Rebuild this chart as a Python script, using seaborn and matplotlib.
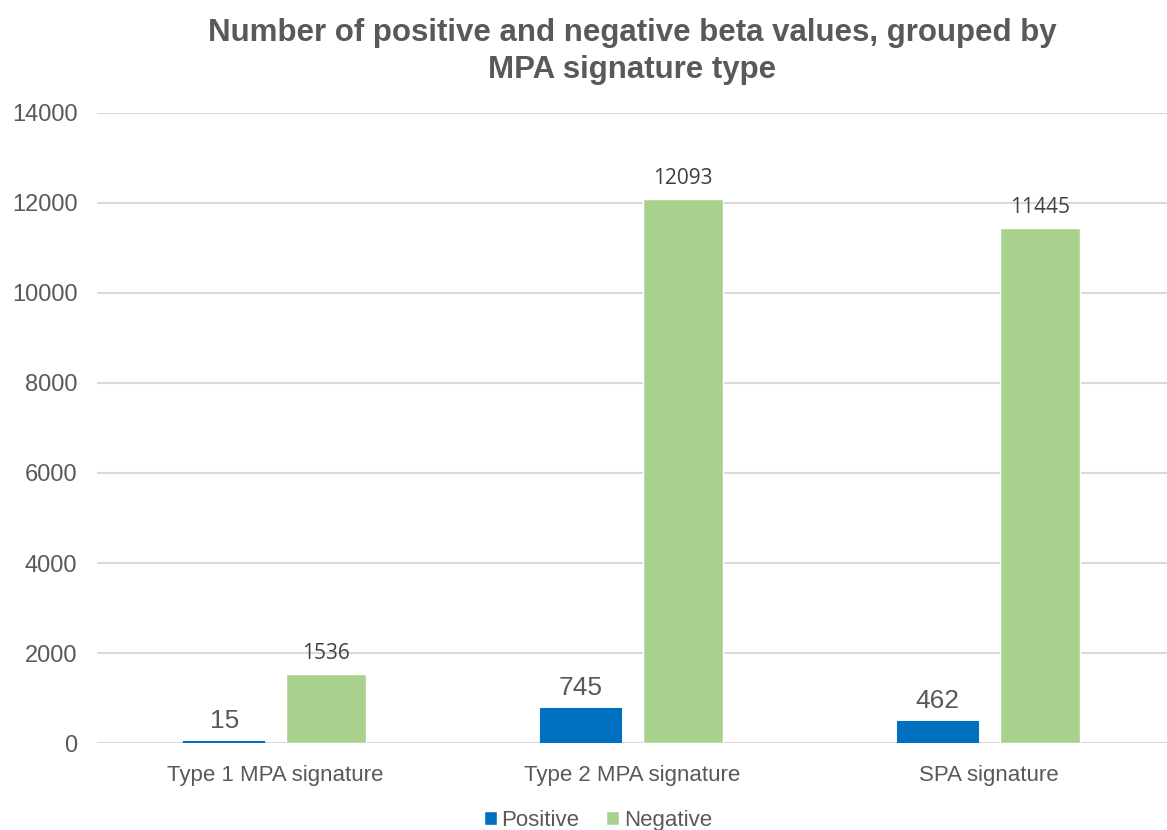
import matplotlib
matplotlib.use("Agg")
import matplotlib.pyplot as plt
import seaborn as sns
import pandas as pd

categories = ["Type 1 MPA signature", "Type 2 MPA signature", "SPA signature"]
positive = [15, 745, 462]
negative = [1536, 12093, 11445]
series_names = ["Positive", "Negative"]
y_ticks = [0, 2000, 4000, 6000, 8000, 10000, 12000, 14000]

df = pd.DataFrame({
    "category": categories * 2,
    "series": [series_names[0]] * 3 + [series_names[1]] * 3,
    "value": positive + negative,
})

sns.set_theme(style="white")
plt.rcParams["font.family"] = ["Liberation Sans", "DejaVu Sans"]

text_color = "#595959"
grid_color = "#d9d9d9"
palette = {"Positive": "#0070C0", "Negative": "#A9D18E"}

fig = plt.figure(figsize=(11.67, 8.3), dpi=100)
ax = fig.add_axes([0.083, 0.1048, 0.917, 0.7591])

sns.barplot(data=df, x="category", y="value", hue="series", palette=palette,
            width=0.572, gap=0.217, ax=ax, saturation=1, legend=True,
            order=categories, hue_order=series_names)

ax.set_ylim(0, 14000)
ax.set_xlim(-0.5, 2.5)
ax.set_yticks(y_ticks)
ax.set_yticklabels([str(t) for t in y_ticks])
ax.yaxis.grid(True, color=grid_color, linewidth=1.5)
ax.set_axisbelow(True)
for s in ax.spines.values():
    s.set_visible(False)
ax.axhline(0, color=grid_color, linewidth=1.5, zorder=0.5)

# thin outline so very small bars stay visible
for bar in ax.containers[0]:
    bar.set_edgecolor("#0070C0")
    bar.set_linewidth(1.5)

ax.tick_params(axis="y", labelsize=17, labelcolor=text_color, length=0, pad=14)
ax.tick_params(axis="x", labelsize=16, labelcolor=text_color, length=0, pad=16)
ax.set_xlabel("")
ax.set_ylabel("")

# value labels above each bar
for container, name in zip(ax.containers, series_names):
    if name == "Positive":
        ax.bar_label(container, labels=[str(v) for v in positive], padding=7,
                     fontsize=19, color=text_color)
    else:
        ax.bar_label(container, labels=[str(v) for v in negative], padding=7,
                     fontsize=15, color="#404040", family="Open Sans")

ax.set_title("Number of positive and negative beta values, grouped by\nMPA signature type",
             fontsize=22.5, fontweight="bold", color=text_color, pad=25,
             linespacing=1.3)

leg = ax.legend(loc="upper center", bbox_to_anchor=(0.468, -0.099), ncol=2,
                frameon=False, fontsize=16, handlelength=0.6, handleheight=0.6,
                handletextpad=0.2, columnspacing=1.2, borderaxespad=0,
                borderpad=0.2)
for t in leg.get_texts():
    t.set_color(text_color)

fig.savefig("out.png", dpi=100)
